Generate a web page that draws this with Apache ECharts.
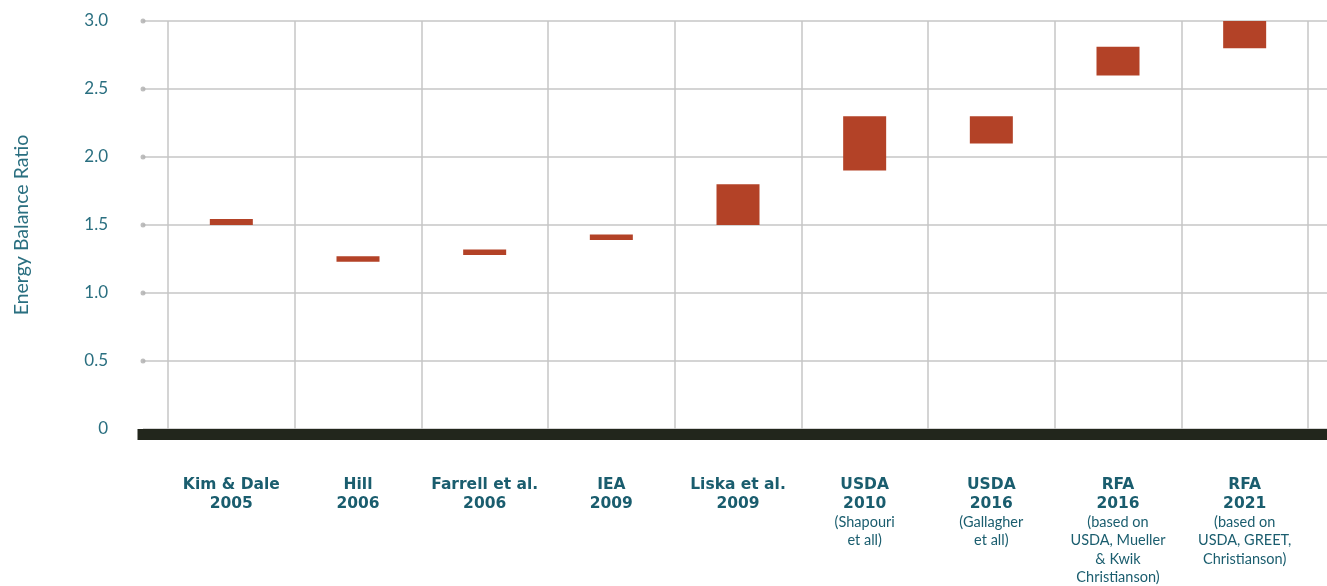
<!DOCTYPE html>
<html lang="en">
<head>
	<meta charset="UTF-8">
	<title>energy-balance-ratio</title>
	<script src="https://cdn.jsdelivr.net/npm/echarts@6/dist/echarts.min.js"></script>
	<style>
		html, body { margin: 0; padding: 0; background: #fff; }
	</style>
</head>
<body>
	<div id="container" style="width:1327px;height:586px;"></div>

	<script>
		// studies (bold title lines + optional note lines)
		var studyNames = ['Kim & Dale', 'Hill', 'Farrell et al.', 'IEA', 'Liska et al.', 'USDA', 'USDA', 'RFA', 'RFA'];
		var studyYears = ['2005', '2006', '2006', '2009', '2009', '2010', '2016', '2016', '2021'];
		var studyNotes = [
			[], [], [], [], [],
			['(Shapouri', 'et all)'],
			['(Gallagher', 'et all)'],
			['(based on', 'USDA, Mueller', '& Kwik', 'Christianson)'],
			['(based on', 'USDA, GREET,', 'Christianson)']
		];
		// energy balance ratio range (low / high)
		var ratioLow  = [1.50, 1.23, 1.28, 1.39, 1.50, 1.90, 2.10, 2.60, 2.80];
		var ratioHigh = [1.545, 1.27, 1.32, 1.43, 1.80, 2.30, 2.30, 2.81, 3.00];
		var yTicks = [0, 0.5, 1.0, 1.5, 2.0, 2.5, 3.0];

		var teal = '#2a6f80';
		var tealDark = '#1a5d6e';
		var barColor = '#b34227';

		var categories = studyNames.map(function (n, i) { return 'c' + i; });
		var rangeSize = ratioHigh.map(function (h, i) { return +(h - ratioLow[i]).toFixed(3); });
		var dotData = yTicks.filter(function (t) { return t > 0; }).map(function (t) { return [0, t]; });

		var myChart = echarts.init(document.getElementById('container'));

		var option = {
			animation: false,
			grid: [
				{ left: 143, right: 0, top: 21, bottom: 157 },
				{ left: 168, right: 19, top: 21, bottom: 157 }
			],
			xAxis: [{
				gridIndex: 0,
				type: 'value',
				min: 0,
				max: 1,
				offset: 5.5,
				axisLine: { show: true, onZero: false, lineStyle: { color: '#22261c', width: 11, cap: 'square' } },
				axisTick: { show: false },
				axisLabel: { show: false },
				splitLine: { show: false }
			}, {
				gridIndex: 1,
				type: 'category',
				data: categories,
				axisLine: { show: false },
				axisTick: { show: false },
				splitLine: { show: true, interval: 0, lineStyle: { color: '#c6c6c6', width: 1.5 } },
				axisLabel: {
					interval: 0,
					margin: 46,
					formatter: function (v) {
						var i = categories.indexOf(v);
						var lines = ['{b|' + studyNames[i] + '}', '{b|' + studyYears[i] + '}'];
						studyNotes[i].forEach(function (s) { lines.push('{s|' + s + '}'); });
						return lines.join('\n');
					},
					rich: {
						b: { fontFamily: 'DejaVu Sans', fontWeight: 'bold', fontSize: 15.5, color: tealDark, lineHeight: 19, align: 'center' },
						s: { fontFamily: 'Lato', fontSize: 14.5, color: tealDark, lineHeight: 18.5, align: 'center' }
					}
				}
			}],
			yAxis: [{
				gridIndex: 0,
				type: 'value',
				min: 0,
				max: 3,
				interval: 0.5,
				name: 'Energy Balance Ratio',
				nameLocation: 'middle',
				nameGap: 111,
				nameTextStyle: { fontFamily: 'Lato', fontSize: 19.5, color: teal },
				axisLine: { show: false },
				axisTick: { show: false },
				axisLabel: {
					margin: 35,
					fontFamily: 'Lato',
					fontSize: 17,
					color: teal,
					formatter: function (v) { return v === 0 ? '0' : v.toFixed(1); }
				},
				splitLine: { show: true, lineStyle: { color: '#c6c6c6', width: 1.5 } }
			}, {
				gridIndex: 1,
				type: 'value',
				min: 0,
				max: 3,
				interval: 0.5,
				show: false,
				splitLine: { show: false }
			}],
			series: [{
				type: 'scatter',
				xAxisIndex: 0,
				yAxisIndex: 0,
				data: dotData,
				symbolSize: 5,
				clip: false,
				itemStyle: { color: '#aeaeae' },
				z: 3
			}, {
				type: 'bar',
				xAxisIndex: 1,
				yAxisIndex: 1,
				stack: 'range',
				data: ratioLow,
				barWidth: 43,
				itemStyle: { color: 'transparent' },
				silent: true
			}, {
				type: 'bar',
				xAxisIndex: 1,
				yAxisIndex: 1,
				stack: 'range',
				data: rangeSize,
				barWidth: 43,
				itemStyle: { color: barColor }
			}]
		};

		myChart.setOption(option);
	</script>
</body>
</html>
